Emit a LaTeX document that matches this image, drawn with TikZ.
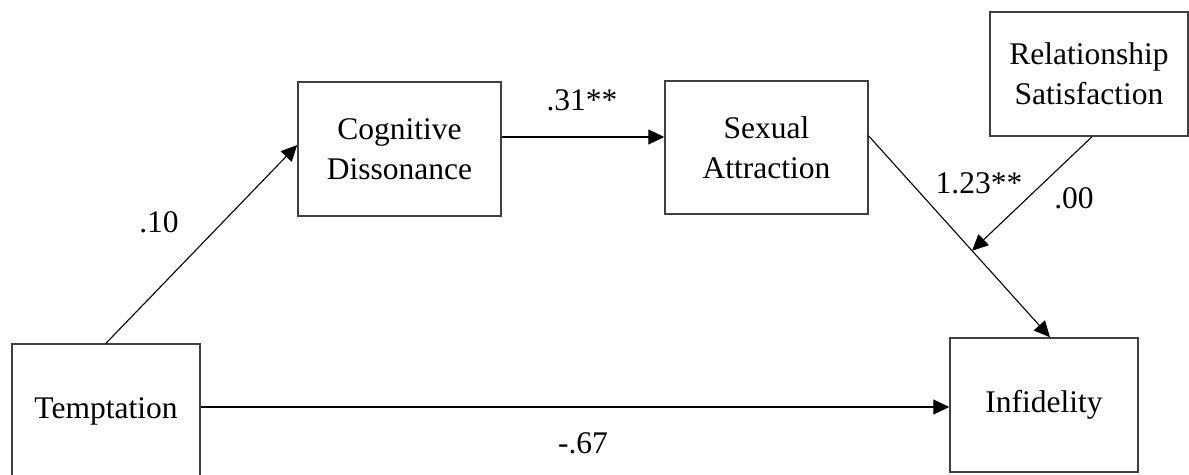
\documentclass[tikz,border=0pt]{standalone}
\usepackage{fontspec}
\setmainfont{Liberation Serif}
\usetikzlibrary{arrows.meta,calc}
\begin{document}
\begin{tikzpicture}[x=1pt,y=-1pt,
  box/.style={draw=black!75,line width=1.5pt,inner sep=0pt,align=center,
    font=\fontsize{31.5}{40}\selectfont},
  arr/.style={draw=black,line width=1.1pt,-{Triangle[length=16pt,width=15pt]}},
  lbl/.style={inner sep=0pt,font=\fontsize{31.5}{40}\selectfont}]
\useasboundingbox (0,0) rectangle (1189,474);
\fill[white] (0,0) rectangle (1189,474);
\node[box,minimum width=188pt,minimum height=134pt] (tempt) at (106,411) {\raisebox{4pt}{Temptation}};
\node[box,minimum width=203pt,minimum height=134pt] (cog) at (399.5,149) {Cognitive\\Dissonance};
\node[box,minimum width=203pt,minimum height=133pt] (sex) at (766.5,147.5) {Sexual\\Attraction};
\node[box,minimum width=198pt,minimum height=124pt] (rel) at (1089,74) {Relationship\\Satisfaction};
\node[box,minimum width=188pt,minimum height=134pt] (inf) at (1044,405) {Infidelity};
\draw[arr] (tempt.north) -- ([yshift=4pt]cog.west);
\draw[arr] ([yshift=12pt]cog.east) -- ([yshift=12pt]cog.east -| sex.west);
\coordinate (s1) at ([yshift=11.5pt]sex.east);
\coordinate (s2) at ([xshift=6pt]inf.north);
\draw[arr] (s1) -- (s2);
\coordinate (m) at ($(s1)!0.57!(s2)$);
\draw[arr] ([xshift=3pt]rel.south) -- (m);
\draw[arr] ([yshift=4pt]tempt.east) -- ([yshift=4pt]tempt.east -| inf.west);
\node[lbl] (l10) at (159,222) {.10};
\node[lbl] (l31) at (582,100) {.31**};
\node[lbl] (l123) at (979,183) {1.23**};
\node[lbl] (l00) at (1074,198) {.00};
\node[lbl] (l67) at (583,443) {-.67};
\end{tikzpicture}
\end{document}
